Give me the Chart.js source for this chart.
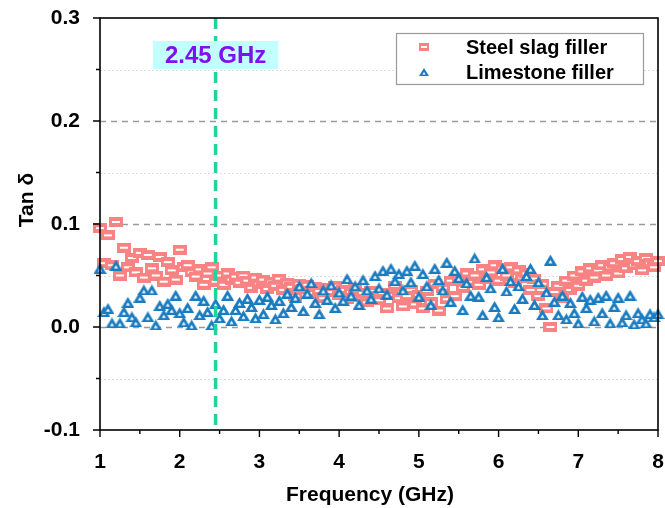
<!DOCTYPE html>
<html>
<head>
<meta charset="utf-8">
<script src="https://cdn.jsdelivr.net/npm/chart.js@4"></script>
<style>
  html, body { margin: 0; padding: 0; background: #fff; }
  #chart { display: block; }
</style>
</head>
<body>
<canvas id="chart" width="665" height="508"></canvas>
<script>
// Tan delta vs frequency - steel slag vs limestone filler

const freq = [
    1.00, 1.05, 1.10, 1.15, 1.20, 1.25, 1.30, 1.35, 1.40, 1.45,
    1.50, 1.55, 1.60, 1.65, 1.70, 1.75, 1.80, 1.85, 1.90, 1.95,
    2.00, 2.05, 2.10, 2.15, 2.20, 2.25, 2.30, 2.35, 2.40, 2.45,
    2.50, 2.55, 2.60, 2.65, 2.70, 2.75, 2.80, 2.85, 2.90, 2.95,
    3.00, 3.05, 3.10, 3.15, 3.20, 3.25, 3.30, 3.35, 3.40, 3.45,
    3.50, 3.55, 3.60, 3.65, 3.70, 3.75, 3.80, 3.85, 3.90, 3.95,
    4.00, 4.05, 4.10, 4.15, 4.20, 4.25, 4.30, 4.35, 4.40, 4.45,
    4.50, 4.55, 4.60, 4.65, 4.70, 4.75, 4.80, 4.85, 4.90, 4.95,
    5.00, 5.05, 5.10, 5.15, 5.20, 5.25, 5.30, 5.35, 5.40, 5.45,
    5.50, 5.55, 5.60, 5.65, 5.70, 5.75, 5.80, 5.85, 5.90, 5.95,
    6.00, 6.05, 6.10, 6.15, 6.20, 6.25, 6.30, 6.35, 6.40, 6.45,
    6.50, 6.55, 6.60, 6.65, 6.70, 6.75, 6.80, 6.85, 6.90, 6.95,
    7.00, 7.05, 7.10, 7.15, 7.20, 7.25, 7.30, 7.35, 7.40, 7.45,
    7.50, 7.55, 7.60, 7.65, 7.70, 7.75, 7.80, 7.85, 7.90, 7.95,
    8.00
];

const steelSlag = [
    0.096, 0.062, 0.089, 0.060, 0.102, 0.050, 0.077, 0.058, 0.067, 0.053,
    0.072, 0.048, 0.070, 0.057, 0.050, 0.068, 0.044, 0.063, 0.055, 0.046,
    0.075, 0.058, 0.060, 0.053, 0.049, 0.056, 0.041, 0.052, 0.058, 0.044,
    0.050, 0.041, 0.052, 0.046, 0.049, 0.043, 0.050, 0.045, 0.038, 0.048,
    0.042, 0.046, 0.037, 0.044, 0.040, 0.047, 0.036, 0.043, 0.039, 0.030,
    0.042, 0.037, 0.041, 0.033, 0.039, 0.035, 0.028, 0.038, 0.034, 0.040,
    0.031, 0.036, 0.027, 0.034, 0.038, 0.029, 0.033, 0.024, 0.035, 0.030,
    0.026, 0.033, 0.018, 0.031, 0.040, 0.028, 0.020, 0.030, 0.036, 0.022,
    0.031, 0.018, 0.035, 0.024, 0.042, 0.016, 0.038, 0.027, 0.045, 0.030,
    0.047, 0.038, 0.052, 0.044, 0.050, 0.041, 0.056, 0.047, 0.053, 0.060,
    0.045, 0.057, 0.050, 0.058, 0.043, 0.055, 0.048, 0.052, 0.036, 0.047,
    0.030, 0.042, 0.018, 0.000, 0.034, 0.040, 0.028, 0.045, 0.036, 0.050,
    0.040, 0.054, 0.045, 0.057, 0.048, 0.055, 0.060, 0.050, 0.058, 0.062,
    0.052, 0.066, 0.057, 0.068, 0.060, 0.064, 0.055, 0.067, 0.062, 0.058,
    0.064
];

const limestone = [
    0.057, 0.015, 0.018, 0.004, 0.060, 0.004, 0.015, 0.024, 0.010, 0.005,
    0.029, 0.036, 0.010, 0.036, 0.002, 0.021, 0.012, 0.023, 0.017, 0.031,
    0.014, 0.005, 0.019, 0.002, 0.031, 0.012, 0.026, 0.015, 0.002, 0.023,
    0.009, 0.017, 0.031, 0.006, 0.017, 0.024, 0.011, 0.028, 0.020, 0.009,
    0.027, 0.013, 0.030, 0.022, 0.008, 0.026, 0.014, 0.033, 0.020, 0.029,
    0.040, 0.016, 0.033, 0.043, 0.024, 0.013, 0.036, 0.027, 0.041, 0.019,
    0.034, 0.026, 0.047, 0.031, 0.040, 0.022, 0.046, 0.036, 0.028, 0.050,
    0.038, 0.055, 0.032, 0.057, 0.045, 0.052, 0.036, 0.055, 0.044, 0.060,
    0.030, 0.052, 0.040, 0.022, 0.057, 0.046, 0.036, 0.063, 0.025, 0.055,
    0.048, 0.017, 0.043, 0.031, 0.067, 0.030, 0.012, 0.049, 0.038, 0.020,
    0.010, 0.057, 0.035, 0.045, 0.018, 0.040, 0.028, 0.050, 0.057, 0.022,
    0.044, 0.012, 0.034, 0.065, 0.025, 0.012, 0.031, 0.008, 0.024, 0.014,
    0.004, 0.030, 0.019, 0.027, 0.006, 0.029, 0.014, 0.031, 0.004, 0.020,
    0.029, 0.005, 0.012, 0.031, 0.003, 0.014, 0.008, 0.004, 0.013, 0.010,
    0.013
];

const xTicks = [1, 2, 3, 4, 5, 6, 7, 8];
const xMinorTicks = [1.5, 2.5, 3.5, 4.5, 5.5, 6.5, 7.5];
const yTicks = [-0.1, 0.0, 0.1, 0.2, 0.3];
const yMinorTicks = [-0.05, 0.05, 0.15, 0.25];
const markerFreq = 2.45;
const markerLabel = '2.45 GHz';

const FONT = "'Liberation Sans', Arial, sans-serif";
const pink = '#f98282';
const blue = '#1a7cc0';

// marker images: thick hollow rect and triangle
function rectMarker(w, h, bx, by) {
    const c = document.createElement('canvas');
    c.width = w; c.height = h;
    const g = c.getContext('2d');
    g.fillStyle = pink;
    g.fillRect(0, 0, w, h);
    g.fillStyle = '#fff';
    g.fillRect(bx, by, w - 2 * bx, h - 2 * by);
    return c;
}

function triMarker(w, h, hole) {
    const c = document.createElement('canvas');
    c.width = w; c.height = h;
    const g = c.getContext('2d');
    g.fillStyle = blue;
    g.beginPath();
    g.moveTo(w / 2, 0); g.lineTo(w, h); g.lineTo(0, h); g.closePath();
    g.fill();
    g.fillStyle = '#fff';
    g.beginPath();
    g.moveTo(w / 2, h * 0.5); g.lineTo(w / 2 + hole, h * 0.8); g.lineTo(w / 2 - hole, h * 0.8); g.closePath();
    g.fill();
    return c;
}

const squareImg = rectMarker(14, 10, 3, 4);
const triImg = triMarker(13, 11, 2);
const squareLegend = rectMarker(10, 8, 2, 3);
const triLegend = triMarker(10, 8, 1.6);

const decor = {
    id: 'decor',
    beforeDatasetsDraw(chart) {
        const { ctx, chartArea: a, scales: { y } } = chart;
        ctx.save();
        // minor grid
        ctx.strokeStyle = '#dddddd';
        ctx.lineWidth = 1;
        ctx.setLineDash([2, 2]);
        yMinorTicks.forEach(v => {
            const py = Math.round(y.getPixelForValue(v)) + 0.5;
            ctx.beginPath(); ctx.moveTo(a.left, py); ctx.lineTo(a.right, py); ctx.stroke();
        });
        // major grid
        ctx.strokeStyle = '#9a9a9a';
        ctx.lineWidth = 1.3;
        ctx.setLineDash([6, 5]);
        yTicks.filter(v => v > -0.1 && v < 0.3).forEach(v => {
            const py = Math.round(y.getPixelForValue(v)) + 0.5;
            ctx.beginPath(); ctx.moveTo(a.left, py); ctx.lineTo(a.right, py); ctx.stroke();
        });
        ctx.restore();
    },
    afterDatasetsDraw(chart) {
        const { ctx, chartArea: a, scales: { x } } = chart;
        const px = x.getPixelForValue(markerFreq);
        ctx.save();
        ctx.strokeStyle = '#1dd49c';
        ctx.lineWidth = 3.5;
        ctx.setLineDash([11, 7]);
        ctx.beginPath(); ctx.moveTo(px, a.top); ctx.lineTo(px, a.bottom); ctx.stroke();
        ctx.restore();
    },
    afterDraw(chart) {
        const { ctx, chartArea: a, scales: { x, y } } = chart;
        ctx.save();
        // frame
        ctx.strokeStyle = '#000';
        ctx.lineWidth = 1.6;
        ctx.setLineDash([]);
        ctx.strokeRect(a.left, a.top, a.right - a.left, a.bottom - a.top);
        // tick marks
        ctx.lineWidth = 1.4;
        ctx.beginPath();
        xTicks.forEach(v => { const px = x.getPixelForValue(v); ctx.moveTo(px, a.bottom); ctx.lineTo(px, a.bottom + 7); });
        xMinorTicks.forEach(v => { const px = x.getPixelForValue(v); ctx.moveTo(px, a.bottom); ctx.lineTo(px, a.bottom + 4); });
        yTicks.forEach(v => { const py = y.getPixelForValue(v); ctx.moveTo(a.left, py); ctx.lineTo(a.left - 7, py); });
        yMinorTicks.forEach(v => { const py = y.getPixelForValue(v); ctx.moveTo(a.left, py); ctx.lineTo(a.left - 4, py); });
        ctx.stroke();

        // marker label box
        const px = x.getPixelForValue(markerFreq);
        ctx.font = 'bold 24px ' + FONT;
        const tw = ctx.measureText(markerLabel).width;
        ctx.fillStyle = '#c2ffff';
        ctx.fillRect(px - tw / 2 - 12, 41, tw + 24, 28);
        ctx.fillStyle = '#7f10f0';
        ctx.textAlign = 'center';
        ctx.textBaseline = 'middle';
        ctx.fillText(markerLabel, px, 56);

        // legend
        ctx.fillStyle = '#fff';
        ctx.fillRect(396, 33, 247, 51);
        ctx.strokeStyle = '#9a9a9a';
        ctx.lineWidth = 1.2;
        ctx.strokeRect(396.5, 33.5, 247, 51);
        ctx.font = 'bold 20px ' + FONT;
        ctx.textAlign = 'left';
        ctx.fillStyle = '#000';
        [[squareLegend, 'Steel slag filler'], [triLegend, 'Limestone filler']].forEach(([img, label], i) => {
            const ly = 47 + i * 25;
            ctx.drawImage(img, 424 - img.width / 2, ly - img.height / 2);
            ctx.fillText(label, 466, ly + 1);
        });

        // axis titles
        ctx.font = 'bold 21px ' + FONT;
        ctx.textAlign = 'center';
        ctx.fillText('Frequency (GHz)', 370, 495);
        ctx.translate(27, 200);
        ctx.rotate(-Math.PI / 2);
        ctx.fillText('Tan δ', 0, 0);
        ctx.restore();
    }
};

new Chart(document.getElementById('chart'), {
    type: 'scatter',
    data: {
        datasets: [
            {
                label: 'Limestone filler',
                data: freq.map((f, i) => ({ x: f, y: limestone[i] })),
                pointStyle: triImg,
                pointRadius: 6,
                borderColor: blue,
                backgroundColor: '#fff',
                order: 0,
                clip: false
            },
            {
                label: 'Steel slag filler',
                data: freq.map((f, i) => ({ x: f, y: steelSlag[i] })),
                pointStyle: squareImg,
                pointRadius: 6,
                borderColor: pink,
                backgroundColor: '#fff',
                order: 1,
                clip: false
            }
        ]
    },
    options: {
        responsive: false,
        animation: false,
        layout: { padding: { top: 18, right: 7, left: 0, bottom: 0 } },
        plugins: {
            legend: { display: false },
            tooltip: { enabled: false }
        },
        scales: {
            x: {
                type: 'linear',
                min: 1,
                max: 8,
                afterBuildTicks: s => { s.ticks = xTicks.map(v => ({ value: v })); },
                afterFit: s => { s.height = 78; s.paddingLeft = 0; s.paddingRight = 0; },
                grid: { display: false },
                border: { display: false },
                ticks: {
                    color: '#000',
                    padding: 12,
                    font: { family: FONT, size: 21, weight: 'bold' },
                    maxRotation: 0
                }
            },
            y: {
                min: -0.1,
                max: 0.3,
                afterBuildTicks: s => { s.ticks = yTicks.map(v => ({ value: v })); },
                afterFit: s => { s.width = 100; s.paddingTop = 0; s.paddingBottom = 0; },
                grid: { display: false },
                border: { display: false },
                ticks: {
                    color: '#000',
                    padding: 12,
                    font: { family: FONT, size: 21, weight: 'bold' },
                    callback: v => v.toFixed(1)
                }
            }
        }
    },
    plugins: [decor]
});
</script>
</body>
</html>
